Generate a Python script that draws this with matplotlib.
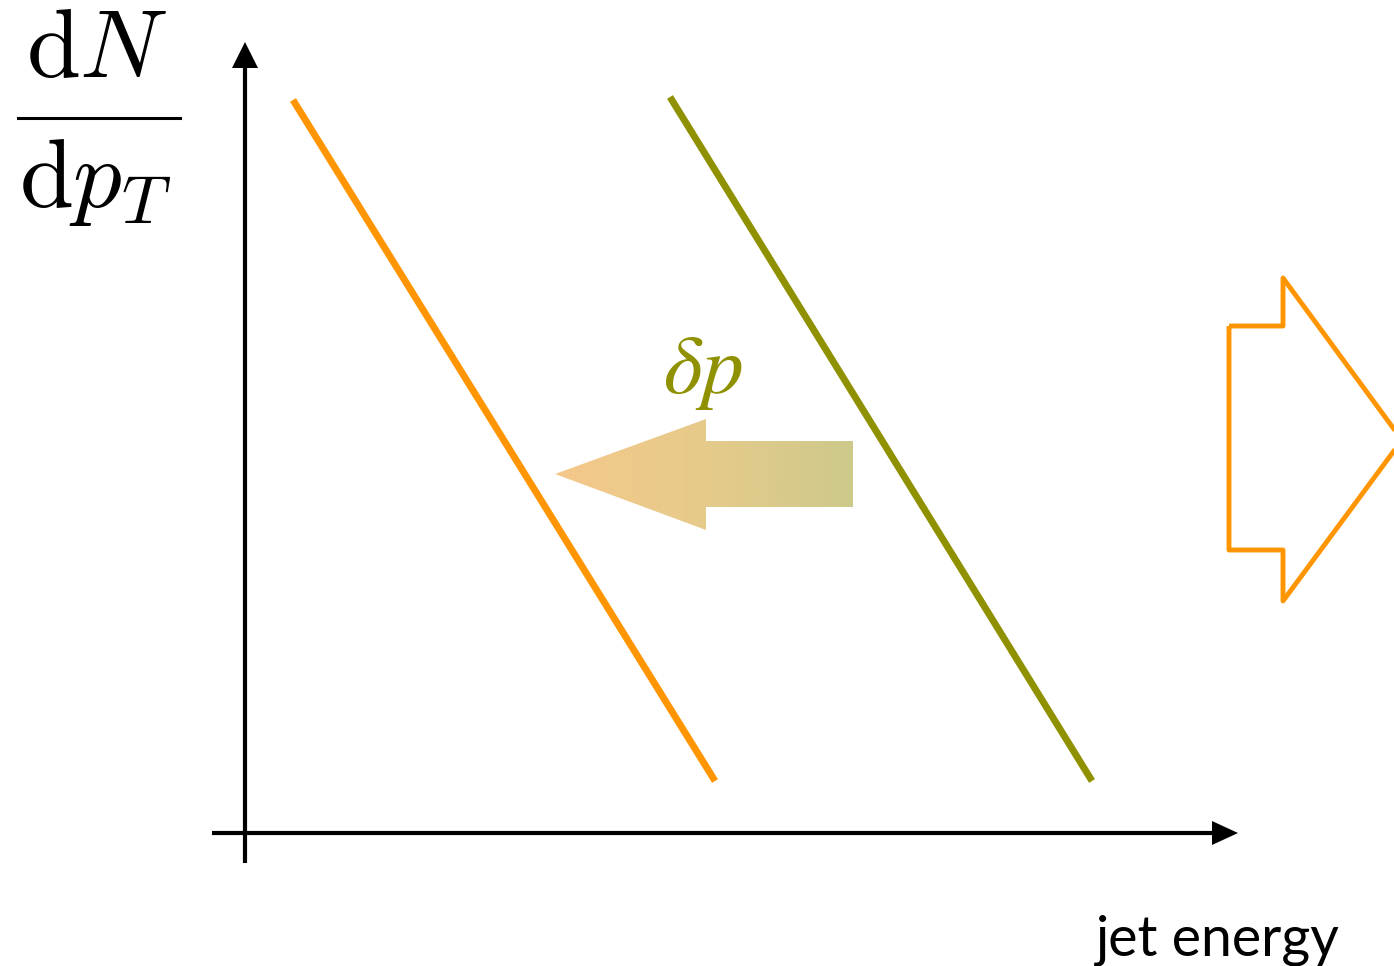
import numpy as np
import matplotlib.pyplot as plt
from matplotlib.patches import Polygon
from matplotlib.colors import LinearSegmentedColormap

# schematic in pixel-like units (x right, y down)
W, H = 1394, 966

orange_x = [293, 715]
orange_y = [100, 781]
olive_x = [670, 1092]
olive_y = [97, 781]

# shift arrow (delta p)
shift_x = [555, 706, 706, 853, 853, 706, 706]
shift_y = [474, 419, 441, 441, 507, 507, 530]
shift_colors = ['#F5C88B', '#E6CB8A', '#CDC98A']

# outlined arrow on the right
big_x = [1229, 1283, 1283, 1402, 1283, 1283, 1229]
big_y = [326, 326, 278, 440, 601, 550, 550]

ORANGE = '#FF9500'
OLIVE = '#8F9100'

fig = plt.figure(figsize=(W / 100, H / 100), dpi=100)
ax = fig.add_axes([0, 0, 1, 1])
ax.set_xlim(0, W)
ax.set_ylim(H, 0)
ax.axis('off')

# axes with arrow heads
ax.plot([245, 245], [863, 66], color='black', lw=3, solid_capstyle='butt')
ax.plot([212, 1214], [833, 833], color='black', lw=3, solid_capstyle='butt')
ax.add_patch(Polygon([[232, 68], [258, 68], [245, 42]], closed=True, color='black', lw=0))
ax.add_patch(Polygon([[1212, 821], [1212, 845], [1238, 833]], closed=True, color='black', lw=0))

# spectra
ax.plot(orange_x, orange_y, color=ORANGE, lw=5, solid_capstyle='butt')
ax.plot(olive_x, olive_y, color=OLIVE, lw=5, solid_capstyle='butt')

# gradient arrow
poly = Polygon(np.column_stack([shift_x, shift_y]), closed=True, facecolor='none', edgecolor='none')
ax.add_patch(poly)
cmap = LinearSegmentedColormap.from_list('shift', shift_colors)
grad = np.linspace(0, 1, 256).reshape(1, -1)
im = ax.imshow(grad, cmap=cmap, aspect='auto',
               extent=[min(shift_x), max(shift_x), max(shift_y), min(shift_y)], zorder=2)
im.set_clip_path(poly)
ax.set_xlim(0, W)
ax.set_ylim(H, 0)

ax.text(703, 372, r'$\delta p$', color=OLIVE, fontsize=60, ha='center', va='center',
        math_fontfamily='stix')

# outlined arrow
ax.add_patch(Polygon(np.column_stack([big_x, big_y]), closed=True, facecolor='none',
                     edgecolor=ORANGE, lw=3.5, joinstyle='round', clip_on=True))

# y label as fraction
ax.text(97, 50, r'$\mathrm{d}N$', fontsize=70, ha='center', va='center', math_fontfamily='cm')
ax.plot([18, 180], [118, 118], color='black', lw=2.2)
ax.text(95, 182, r'$\mathrm{d}p_T$', fontsize=70, ha='center', va='center', math_fontfamily='cm')

ax.text(1340, 955, 'jet energy', fontsize=40, ha='right', va='baseline',
        family='Lato', weight='normal')

fig.savefig('out.png', dpi=100)
